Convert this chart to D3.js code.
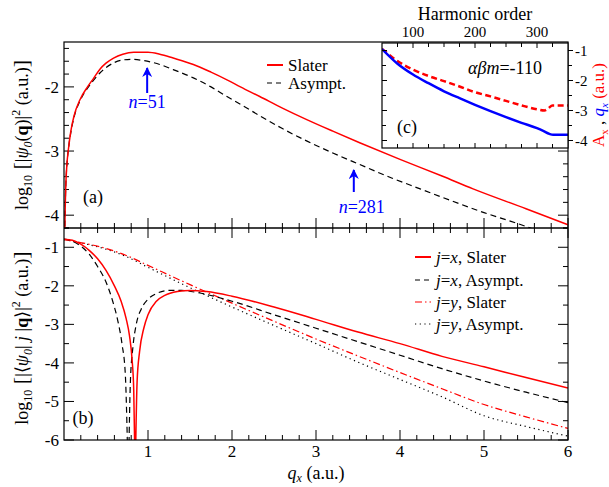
<!DOCTYPE html>
<html><head><meta charset="utf-8">
<script src="https://cdn.jsdelivr.net/npm/d3@7"></script>
<style>
body{margin:0;background:#fff}
svg{display:block}
text{font-family:"Liberation Serif","Times New Roman",serif;fill:#000}
</style>
</head><body>
<svg id="chart" width="609" height="487"></svg>
<script>
// ---- panel (a): log10 |psi0(q)|^2 versus q_x ----
const aSlater = [[0.005,-4.8],[0.01,-4.2],[0.02,-3.6],[0.035,-3.2],[0.05,-3.0],[0.08,-2.7],[0.12,-2.45],[0.19,-2.2],[0.28,-2.0],[0.35,-1.87],[0.43,-1.72],[0.5,-1.63],[0.59,-1.55],[0.7,-1.49],[0.83,-1.46],[1.0,-1.46],[1.14,-1.49],[1.3,-1.55],[1.54,-1.65],[1.75,-1.77],[1.94,-1.89],[2.1,-2.0],[2.33,-2.15],[2.6,-2.33],[2.89,-2.51],[3.2,-2.69],[3.52,-2.87],[4.0,-3.13],[4.5,-3.39],[4.87,-3.59],[5.5,-3.9],[6.0,-4.15]];
const aAsympt = [[0.005,-4.8],[0.01,-4.2],[0.02,-3.6],[0.035,-3.2],[0.05,-3.0],[0.08,-2.72],[0.12,-2.47],[0.19,-2.22],[0.28,-2.02],[0.35,-1.9],[0.43,-1.78],[0.5,-1.7],[0.6,-1.62],[0.7,-1.58],[0.81,-1.57],[0.95,-1.59],[1.14,-1.65],[1.3,-1.73],[1.54,-1.86],[1.75,-2.0],[1.94,-2.15],[2.1,-2.27],[2.33,-2.45],[2.6,-2.65],[2.9,-2.85],[3.2,-3.03],[3.52,-3.21],[3.9,-3.42],[4.24,-3.59],[4.6,-3.77],[5.0,-3.96],[5.4,-4.13],[5.7,-4.27],[6.0,-4.4]];

// ---- panel (b): log10 |<psi0| j |q>|^2 ----
const bXSlater = [[0,-0.79],[0.1,-0.82],[0.2,-0.92],[0.3,-1.08],[0.4,-1.3],[0.5,-1.6],[0.6,-2.0],[0.68,-2.4],[0.74,-2.85],[0.78,-3.3],[0.81,-3.9],[0.83,-4.7],[0.845,-6.6],null,[0.85,-6.6],[0.87,-4.5],[0.9,-3.7],[0.95,-3.1],[1.0,-2.75],[1.1,-2.4],[1.2,-2.25],[1.35,-2.15],[1.5,-2.12],[1.7,-2.15],[2.0,-2.27],[2.5,-2.55],[3.0,-2.87],[3.5,-3.2],[4.0,-3.5],[4.5,-3.83],[5.0,-4.1],[5.5,-4.38],[6.0,-4.65]];
const bXAsympt = [[0,-0.79],[0.1,-0.84],[0.2,-0.97],[0.3,-1.18],[0.4,-1.5],[0.5,-1.9],[0.58,-2.4],[0.64,-2.9],[0.69,-3.5],[0.73,-4.3],[0.76,-6.6],null,[0.77,-6.6],[0.79,-4.5],[0.82,-3.6],[0.86,-3.0],[0.92,-2.6],[1.0,-2.35],[1.1,-2.2],[1.25,-2.12],[1.4,-2.12],[1.6,-2.18],[2.0,-2.4],[2.5,-2.75],[3.0,-3.1],[3.5,-3.45],[4.0,-3.8],[4.5,-4.15],[5.0,-4.47],[5.5,-4.76],[6.0,-5.03]];
const bYSlater = [[0,-0.8],[0.25,-0.9],[0.5,-1.03],[0.75,-1.22],[1.0,-1.47],[1.5,-1.97],[2.0,-2.45],[2.5,-2.92],[3.0,-3.38],[3.5,-3.82],[4.0,-4.25],[4.5,-4.67],[5.0,-5.08],[5.5,-5.4],[6.0,-5.7]];
const bYAsympt = [[0,-0.8],[0.25,-0.91],[0.5,-1.05],[0.75,-1.25],[1.0,-1.52],[1.5,-2.05],[2.0,-2.55],[2.5,-3.03],[3.0,-3.5],[3.5,-3.98],[4.0,-4.43],[4.5,-4.88],[5.0,-5.37],[5.5,-5.65],[6.0,-5.9]];

// ---- panel (c): harmonic order versus log10 A_x and q_x ----
const cQx = [[50,-0.95],[75,-1.44],[100,-1.8],[125,-2.09],[150,-2.36],[175,-2.59],[200,-2.81],[225,-3.02],[250,-3.22],[275,-3.41],[300,-3.59],[310,-3.68],[320,-3.78],[326,-3.81],[350,-3.81]];
const cAx = [[50,-0.95],[75,-1.35],[100,-1.64],[125,-1.85],[150,-2.02],[175,-2.2],[200,-2.39],[225,-2.53],[250,-2.68],[275,-2.83],[300,-2.96],[312,-3.0],[318,-2.93],[325,-2.83],[350,-2.83]];

const xTicksMajor = [1,2,3,4,5,6];
const yTicksA = [-4,-3,-2];
const yTicksB = [-6,-5,-4,-3,-2,-1];
const cXTicks = [100,200,300];
const cYTicks = [-4,-3,-2,-1];

const svg = d3.select("#chart");
const L = 64, R = 568, T = 42, M = 228, B = 440;
const x = d3.scaleLinear().domain([0,6]).range([L,R]);
const yA = d3.scaleLinear().domain([-4.2,-1.3]).range([M,T]);
const yB = d3.scaleLinear().domain([-6,-0.5]).range([B,M]);

const defs = svg.append("defs");
defs.append("clipPath").attr("id","clipA").append("rect").attr("x",L).attr("y",T).attr("width",R-L).attr("height",M-T);
defs.append("clipPath").attr("id","clipB").append("rect").attr("x",L).attr("y",M).attr("width",R-L).attr("height",B-M);
defs.append("marker").attr("id","arrowHead").attr("viewBox","0 0 10 10").attr("refX",9).attr("refY",5)
  .attr("markerWidth",5).attr("markerHeight",5).attr("orient","auto")
  .append("path").attr("d","M0,0 L10,5 L0,10 L3,5 Z").attr("fill","#0000ff");

function line(xs, ys){
  return d3.line().defined(d => d !== null).x(d => xs(d[0])).y(d => ys(d[1])).curve(d3.curveMonotoneX);
}

function ticks(g, vals, pos, len, orient){
  vals.forEach(v => {
    const p = pos(v);
    if (orient === "up") g.append("line").attr("x1",p).attr("x2",p).attr("y1",0).attr("y2",-len);
    if (orient === "down") g.append("line").attr("x1",p).attr("x2",p).attr("y1",0).attr("y2",len);
    if (orient === "right") g.append("line").attr("y1",p).attr("y2",p).attr("x1",0).attr("x2",len);
    if (orient === "left") g.append("line").attr("y1",p).attr("y2",p).attr("x1",0).attr("x2",-len);
  });
}
const xMinor = d3.range(0,6.001,0.2).filter(v => Math.abs(v-Math.round(v))>1e-6);
const yAMinor = d3.range(-4.2,-1.29,0.2).filter(v=>Math.abs(v-Math.round(v))>1e-6);

// ---- axes, panel (a) ----
const ga = svg.append("g").attr("stroke","#000").attr("stroke-width",1);
const gab = ga.append("g").attr("transform",`translate(0,${M})`);
ticks(gab, xTicksMajor, x, 10, "up");
ticks(gab, xMinor, x, 5, "up");
const gal = ga.append("g").attr("transform",`translate(${L},0)`);
ticks(gal, yTicksA, yA, 10, "right");
ticks(gal, yAMinor, yA, 5, "right");
const gar = ga.append("g").attr("transform",`translate(${R},0)`);
ticks(gar, yTicksA, yA, 10, "left");
ticks(gar, yAMinor, yA, 5, "left");

// ---- axes, panel (b) ----
const gb = svg.append("g").attr("stroke","#000").attr("stroke-width",1);
const gbt = gb.append("g").attr("transform",`translate(0,${M})`);
ticks(gbt, xTicksMajor, x, 10, "down");
ticks(gbt, xMinor, x, 5, "down");
const gbb = gb.append("g").attr("transform",`translate(0,${B})`);
ticks(gbb, xTicksMajor, x, 10, "up");
ticks(gbb, xMinor, x, 5, "up");
const yBMinor = d3.range(-5.5,-0.4,1);
const gbl = gb.append("g").attr("transform",`translate(${L},0)`);
ticks(gbl, yTicksB, yB, 10, "right");
ticks(gbl, yBMinor, yB, 5, "right");
const gbr = gb.append("g").attr("transform",`translate(${R},0)`);
ticks(gbr, yTicksB, yB, 10, "left");
ticks(gbr, yBMinor, yB, 5, "left");

// tick labels
svg.append("g").selectAll("text").data(yTicksA).join("text")
  .attr("x",L-5).attr("y",d=>yA(d)+6).attr("text-anchor","end").attr("font-size",17).text(d=>d);
svg.append("g").selectAll("text").data(yTicksB).join("text")
  .attr("x",L-5).attr("y",d=>yB(d)+6).attr("text-anchor","end").attr("font-size",17).text(d=>d);
svg.append("g").selectAll("text").data(xTicksMajor).join("text")
  .attr("x",d=>x(d)).attr("y",B+17).attr("text-anchor","middle").attr("font-size",17).text(d=>d);

// ---- curves ----
const pa = svg.append("g").attr("clip-path","url(#clipA)").attr("fill","none");
pa.append("path").attr("d",line(x,yA)(aAsympt)).attr("stroke","#000").attr("stroke-width",1.2).attr("stroke-dasharray","6,4");
pa.append("path").attr("d",line(x,yA)(aSlater)).attr("stroke","#ff0000").attr("stroke-width",1.5);

const pb = svg.append("g").attr("clip-path","url(#clipB)").attr("fill","none");
pb.append("path").attr("d",line(x,yB)(bYAsympt)).attr("stroke","#000").attr("stroke-width",1.2).attr("stroke-dasharray","1.2,3.5");
pb.append("path").attr("d",line(x,yB)(bYSlater)).attr("stroke","#ff0000").attr("stroke-width",1.2).attr("stroke-dasharray","7,3,1.5,3");
pb.append("path").attr("d",line(x,yB)(bXAsympt)).attr("stroke","#000").attr("stroke-width",1.2).attr("stroke-dasharray","6,4");
pb.append("path").attr("d",line(x,yB)(bXSlater)).attr("stroke","#ff0000").attr("stroke-width",1.5);

// frames
svg.append("rect").attr("x",L).attr("y",T).attr("width",R-L).attr("height",B-T).attr("fill","none").attr("stroke","#000").attr("stroke-width",1.2);
svg.append("line").attr("x1",L).attr("x2",R).attr("y1",M).attr("y2",M).attr("stroke","#000").attr("stroke-width",1.5);

// panel letters
svg.append("text").attr("x",93).attr("y",203).attr("text-anchor","middle").attr("font-size",18).text("(a)");
svg.append("text").attr("x",83).attr("y",424).attr("text-anchor","middle").attr("font-size",18).text("(b)");

// legends
function legendRow(g, x0, y0, stroke, dash, width, parts){
  g.append("line").attr("x1",x0).attr("x2",x0+16).attr("y1",y0).attr("y2",y0)
    .attr("stroke",stroke).attr("stroke-width",width).attr("stroke-dasharray",dash);
  const t = g.append("text").attr("x",x0+21).attr("y",y0+5.5).attr("font-size",17);
  parts.forEach(p => t.append("tspan").attr("font-style",p[1]?"italic":null).text(p[0]));
}
const lgA = svg.append("g");
legendRow(lgA, 267, 65, "#ff0000", null, 2, [["Slater",false]]);
legendRow(lgA, 267, 83, "#000", "5,4", 1.2, [["Asympt.",false]]);
const lgB = svg.append("g");
legendRow(lgB, 415, 257, "#ff0000", null, 2, [["j",true],["=",false],["x",true],[", Slater",false]]);
legendRow(lgB, 415, 280, "#000", "5,4", 1.2, [["j",true],["=",false],["x",true],[", Asympt.",false]]);
legendRow(lgB, 415, 302, "#ff0000", "7,3,1.5,3", 1.2, [["j",true],["=",false],["y",true],[", Slater",false]]);
legendRow(lgB, 415, 324, "#000", "1.2,3.5", 1.2, [["j",true],["=",false],["y",true],[", Asympt.",false]]);

// arrows marking harmonic orders
function arrow(q, y1, y2, label, lx, ly){
  svg.append("line").attr("x1",x(q)).attr("x2",x(q)).attr("y1",y1).attr("y2",y2+2)
    .attr("stroke","#0000ff").attr("stroke-width",2).attr("marker-end","url(#arrowHead)");
  const t = svg.append("text").attr("x",lx).attr("y",ly).attr("text-anchor","middle").attr("font-size",18).style("fill","#0000ff");
  t.append("tspan").attr("font-style","italic").text("n");
  t.append("tspan").text("="+label);
}
arrow(0.99, 93, 66, "51", x(0.99), 108);
arrow(3.45, 192, 168, "281", x(3.45)+8, 213);

// axis titles
const xt = svg.append("text").attr("x",316).attr("y",479).attr("text-anchor","middle").attr("font-size",18);
xt.append("tspan").attr("font-style","italic").text("q");
xt.append("tspan").attr("font-style","italic").attr("font-size",12).attr("dy",3).text("x");
xt.append("tspan").attr("dy",-3).text(" (a.u.)");

const ytA = svg.append("text").attr("transform","translate(28,135) rotate(-90)").attr("text-anchor","middle").attr("font-size",18);
ytA.append("tspan").text("log");
ytA.append("tspan").attr("font-size",12).attr("dy",4).text("10");
ytA.append("tspan").attr("dy",-4).attr("font-size",22).text(" [");
ytA.append("tspan").text("|");
ytA.append("tspan").attr("font-style","italic").text("ψ");
ytA.append("tspan").attr("font-style","italic").attr("font-size",12).attr("dy",4).text("0");
ytA.append("tspan").attr("dy",-4).text("(");
ytA.append("tspan").attr("font-weight","bold").text("q");
ytA.append("tspan").text(")|");
ytA.append("tspan").attr("font-size",12).attr("dy",-8).text("2");
ytA.append("tspan").attr("dy",8).text(" (a.u.)");
ytA.append("tspan").attr("font-size",22).text("]");

const ytB = svg.append("text").attr("transform","translate(28,338) rotate(-90)").attr("text-anchor","middle").attr("font-size",18);
ytB.append("tspan").text("log");
ytB.append("tspan").attr("font-size",12).attr("dy",4).text("10");
ytB.append("tspan").attr("dy",-4).attr("font-size",22).text(" [");
ytB.append("tspan").text("|⟨");
ytB.append("tspan").attr("font-style","italic").text("ψ");
ytB.append("tspan").attr("font-style","italic").attr("font-size",12).attr("dy",4).text("0");
ytB.append("tspan").attr("dy",-4).text("| ");
ytB.append("tspan").attr("font-style","italic").text("j");
ytB.append("tspan").text(" |");
ytB.append("tspan").attr("font-weight","bold").text("q");
ytB.append("tspan").text("⟩|");
ytB.append("tspan").attr("font-size",12).attr("dy",-8).text("2");
ytB.append("tspan").attr("dy",8).text(" (a.u.)");
ytB.append("tspan").attr("font-size",22).text("]");

// ---- inset (c) ----
const iL = 382, iR = 568, iT = 43, iB = 148;
const cx = d3.scaleLinear().domain([50,350]).range([iL,iR]);
const cy = d3.scaleLinear().domain([-4.25,-0.75]).range([iB,iT]);
svg.append("rect").attr("x",iL).attr("y",iT).attr("width",iR-iL).attr("height",iB-iT).attr("fill","#fff");
defs.append("clipPath").attr("id","clipC").append("rect").attr("x",iL).attr("y",iT).attr("width",iR-iL).attr("height",iB-iT);
const pc = svg.append("g").attr("clip-path","url(#clipC)").attr("fill","none");
pc.append("path").attr("d",line(cx,cy)(cAx)).attr("stroke","#ff0000").attr("stroke-width",2.5).attr("stroke-dasharray","6,3.5");
pc.append("path").attr("d",line(cx,cy)(cQx)).attr("stroke","#0000ff").attr("stroke-width",2.5);

const gc = svg.append("g").attr("stroke","#000").attr("stroke-width",1);
const cXMinor = d3.range(75,350,25).filter(v => v%100!==0);
const gct = gc.append("g").attr("transform",`translate(0,${iT})`);
ticks(gct, cXTicks, cx, 5, "down"); ticks(gct, cXMinor, cx, 4, "down");
const gcb = gc.append("g").attr("transform",`translate(0,${iB})`);
ticks(gcb, cXTicks, cx, 5, "up"); ticks(gcb, cXMinor, cx, 4, "up");
const cYMinor = [-3.5,-2.5,-1.5];
const gcl = gc.append("g").attr("transform",`translate(${iL},0)`);
ticks(gcl, cYTicks, cy, 5, "right"); ticks(gcl, cYMinor, cy, 4, "right");
const gcr = gc.append("g").attr("transform",`translate(${iR},0)`);
ticks(gcr, cYTicks, cy, 5, "right"); ticks(gcr, cYMinor, cy, 4, "right");
svg.append("rect").attr("x",iL).attr("y",iT).attr("width",iR-iL).attr("height",iB-iT).attr("fill","none").attr("stroke","#000").attr("stroke-width",1.2);

svg.append("g").selectAll("text").data(cXTicks).join("text")
  .attr("x",d=>cx(d)).attr("y",37).attr("text-anchor","middle").attr("font-size",15).text(d=>d);
svg.append("g").selectAll("text").data(cYTicks).join("text")
  .attr("x",iR+7).attr("y",d=>cy(d)+5).attr("font-size",15).text(d=>d);
svg.append("text").attr("x",475).attr("y",20).attr("text-anchor","middle").attr("font-size",18).text("Harmonic order");
const ab = svg.append("text").attr("x",468).attr("y",74).attr("font-size",18);
ab.append("tspan").attr("font-style","italic").text("αβm");
ab.append("tspan").text("=-110");
svg.append("text").attr("x",407).attr("y",133).attr("text-anchor","middle").attr("font-size",18).text("(c)");

const ytC = svg.append("text").attr("transform","translate(604,105) rotate(-90)").attr("text-anchor","middle").attr("font-size",17);
ytC.append("tspan").style("fill","#ff0000").text("A");
ytC.append("tspan").style("fill","#ff0000").attr("font-size",11).attr("dy",4).text("x");
ytC.append("tspan").attr("dy",-4).text(" , ");
ytC.append("tspan").style("fill","#0000ff").attr("font-style","italic").text("q");
ytC.append("tspan").style("fill","#0000ff").attr("font-style","italic").attr("font-size",11).attr("dy",4).text("x");
ytC.append("tspan").attr("dy",-4).style("fill","#ff0000").text(" (a.u.)");
</script>
</body></html>
